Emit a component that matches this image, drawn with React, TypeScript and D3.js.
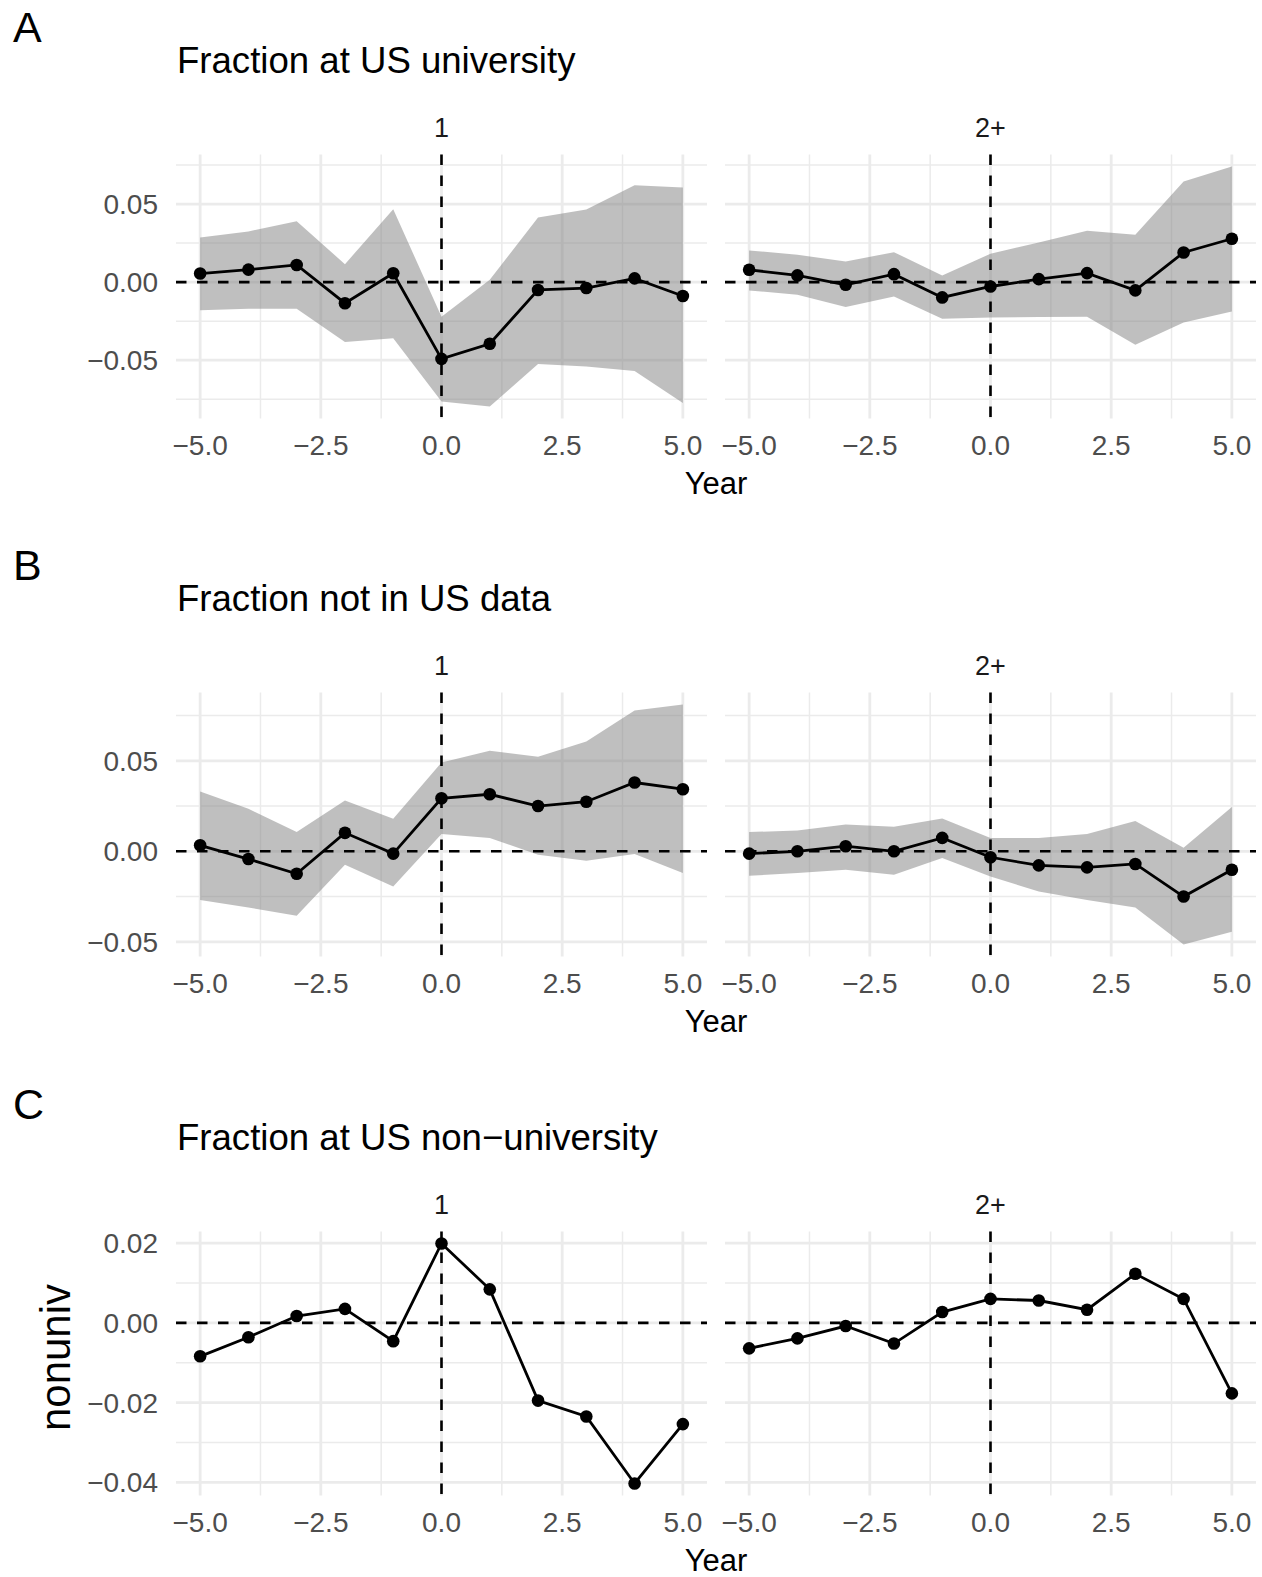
import React, { useEffect, useRef } from "react";
import * as d3 from "d3";

// event years (x axis)
const years = [-5, -4, -3, -2, -1, 0, 1, 2, 3, 4, 5];
const facetLabels = ["1", "2+"];

// A: fraction at US university
const univEst1 = [0.0055, 0.008, 0.011, -0.0135, 0.0057, -0.0492, -0.0395, -0.005, -0.0038, 0.0024, -0.0089];
const univHi1 = [0.0286, 0.0325, 0.039, 0.0115, 0.0467, -0.0222, 0.0015, 0.0414, 0.0466, 0.0621, 0.0607];
const univLo1 = [-0.018, -0.0171, -0.0171, -0.0384, -0.036, -0.0765, -0.0797, -0.0524, -0.054, -0.057, -0.0774];
const univEst2 = [0.0079, 0.0043, -0.0017, 0.0051, -0.0098, -0.0028, 0.0019, 0.0058, -0.0053, 0.019, 0.0278];
const univHi2 = [0.0203, 0.0175, 0.0132, 0.0192, 0.0043, 0.0182, 0.0254, 0.0329, 0.0303, 0.0645, 0.0741];
const univLo2 = [-0.0053, -0.0081, -0.016, -0.0092, -0.0235, -0.0226, -0.0224, -0.0222, -0.0402, -0.0259, -0.0188];

// B: fraction not in US data
const notUsEst1 = [0.0033, -0.0043, -0.0124, 0.0102, -0.0013, 0.0293, 0.0315, 0.025, 0.0274, 0.038, 0.0343];
const notUsHi1 = [0.033, 0.0235, 0.0107, 0.0281, 0.018, 0.0491, 0.0556, 0.0522, 0.0606, 0.0778, 0.0811];
const notUsLo1 = [-0.0269, -0.0311, -0.0356, -0.0074, -0.0194, 0.0096, 0.0074, -0.0019, -0.0052, -0.0015, -0.012];
const notUsEst2 = [-0.0013, 0.0, 0.0028, 0.0, 0.0074, -0.0033, -0.0078, -0.0089, -0.007, -0.025, -0.0102];
const notUsHi2 = [0.0106, 0.0115, 0.0148, 0.0135, 0.0181, 0.0074, 0.0074, 0.0096, 0.0167, 0.0019, 0.0244];
const notUsLo2 = [-0.0135, -0.012, -0.0102, -0.013, -0.0037, -0.0139, -0.0222, -0.0269, -0.0311, -0.0515, -0.0444];

// C: fraction at US non-university (no interval)
const nonunivEst1 = [-0.0084, -0.0036, 0.0017, 0.0035, -0.0046, 0.0199, 0.0084, -0.0195, -0.0235, -0.0403, -0.0254];
const nonunivEst2 = [-0.0064, -0.0039, -0.0008, -0.0052, 0.0027, 0.006, 0.0056, 0.0033, 0.0123, 0.006, -0.0177];

const xTicks = [-5, -2.5, 0, 2.5, 5];
const yTicksAB = [-0.05, 0, 0.05];
const yTicksC = [-0.04, -0.02, 0, 0.02];

const rows = [
  { tag: "A", title: "Fraction at US university", top: 0, yTicks: yTicksAB, yTitle: "",
    facets: [{ est: univEst1, lo: univLo1, hi: univHi1 }, { est: univEst2, lo: univLo2, hi: univHi2 }] },
  { tag: "B", title: "Fraction not in US data", top: 538, yTicks: yTicksAB, yTitle: "",
    facets: [{ est: notUsEst1, lo: notUsLo1, hi: notUsHi1 }, { est: notUsEst2, lo: notUsLo2, hi: notUsHi2 }] },
  { tag: "C", title: "Fraction at US non\u2212university", top: 1077, yTicks: yTicksC, yTitle: "nonuniv",
    facets: [{ est: nonunivEst1, lo: null, hi: null }, { est: nonunivEst2, lo: null, hi: null }] },
];

const W = 1262;
const H = 1577;
const FONT = "'Liberation Sans', Arial, Helvetica, sans-serif";
const panelX = [[176, 707], [725, 1256]];
const plotTop = 154.5;
const plotBottom = 418.5;
const grid = "#EBEBEB";

const App = () => {
  const ref = useRef(null);

  useEffect(() => {
    const svg = d3.select(ref.current);
    svg.selectAll("*").remove();
    svg.append("rect").attr("width", W).attr("height", H).attr("fill", "white");

    const [xa, xb] = d3.extent(years);
    const xPad = (xb - xa) * 0.05;
    const fmtX = d3.format(".1f");
    const fmtY = d3.format(".2f");

    rows.forEach(row => {
      const g = svg.append("g").attr("transform", `translate(0,${row.top})`);

      // y domain shared across facets, 5% expansion like ggplot
      const all = row.facets.flatMap(f => [...f.est, ...(f.lo || []), ...(f.hi || [])]);
      const [ya, yb] = d3.extent(all);
      const yPad = (yb - ya) * 0.05;
      const y = d3.scaleLinear().domain([ya - yPad, yb + yPad]).range([plotBottom, plotTop]);
      const step = row.yTicks[1] - row.yTicks[0];
      const yMinor = d3.range(row.yTicks[0] - step / 2, row.yTicks[row.yTicks.length - 1] + step, step)
        .filter(v => v >= y.domain()[0] && v <= y.domain()[1]);

      g.append("text").attr("x", 13).attr("y", 42).attr("font-size", 43).attr("font-family", FONT)
        .attr("fill", "black").text(row.tag);
      g.append("text").attr("x", 177).attr("y", 73).attr("font-size", 36.6).attr("font-family", FONT)
        .attr("fill", "black").text(row.title);

      // y tick labels
      g.selectAll("text.ytick").data(row.yTicks).enter().append("text")
        .attr("class", "ytick")
        .attr("x", 158).attr("y", d => y(d)).attr("dy", "0.36em")
        .attr("text-anchor", "end").attr("font-size", 28).attr("font-family", FONT)
        .attr("fill", "#4D4D4D").text(d => fmtY(d));

      if (row.yTitle) {
        g.append("text")
          .attr("transform", `translate(70,${(plotTop + plotBottom) / 2 - 6}) rotate(-90)`)
          .attr("text-anchor", "middle").attr("font-size", 42).attr("font-family", FONT)
          .attr("fill", "black").text(row.yTitle);
      }

      g.append("text").attr("x", (panelX[0][0] + panelX[1][1]) / 2).attr("y", 494)
        .attr("text-anchor", "middle").attr("font-size", 31).attr("font-family", FONT)
        .attr("fill", "black").text("Year");

      row.facets.forEach((f, fi) => {
        const x = d3.scaleLinear().domain([xa - xPad, xb + xPad]).range(panelX[fi]);
        const xMinor = d3.range(xTicks[0] + 1.25, xTicks[xTicks.length - 1], 2.5);
        const p = g.append("g");

        // grid
        p.selectAll("line.ymin").data(yMinor).enter().append("line")
          .attr("x1", x.range()[0]).attr("x2", x.range()[1])
          .attr("y1", d => y(d)).attr("y2", d => y(d))
          .attr("stroke", grid).attr("stroke-width", 1.5);
        p.selectAll("line.xmin").data(xMinor).enter().append("line")
          .attr("x1", d => x(d)).attr("x2", d => x(d))
          .attr("y1", plotTop).attr("y2", plotBottom)
          .attr("stroke", grid).attr("stroke-width", 1.5);
        p.selectAll("line.ymaj").data(row.yTicks).enter().append("line")
          .attr("x1", x.range()[0]).attr("x2", x.range()[1])
          .attr("y1", d => y(d)).attr("y2", d => y(d))
          .attr("stroke", grid).attr("stroke-width", 2.8);
        p.selectAll("line.xmaj").data(xTicks).enter().append("line")
          .attr("x1", d => x(d)).attr("x2", d => x(d))
          .attr("y1", plotTop).attr("y2", plotBottom)
          .attr("stroke", grid).attr("stroke-width", 2.8);

        // strip label
        p.append("text").attr("x", x(0)).attr("y", 137).attr("text-anchor", "middle")
          .attr("font-size", 27).attr("font-family", FONT).attr("fill", "#1A1A1A")
          .text(facetLabels[fi]);

        // x tick labels
        p.selectAll("text.xtick").data(xTicks).enter().append("text")
          .attr("x", d => x(d)).attr("y", 455).attr("text-anchor", "middle")
          .attr("font-size", 28).attr("font-family", FONT).attr("fill", "#4D4D4D")
          .text(d => fmtX(d));

        const pts = years.map((yr, i) => ({ yr, est: f.est[i], lo: f.lo ? f.lo[i] : null, hi: f.hi ? f.hi[i] : null }));

        if (f.lo) {
          const area = d3.area().x(d => x(d.yr)).y0(d => y(d.lo)).y1(d => y(d.hi));
          p.append("path").attr("d", area(pts)).attr("fill", "#7F7F7F").attr("fill-opacity", 0.5);
        }

        // reference lines
        p.append("line").attr("x1", x.range()[0]).attr("x2", x.range()[1])
          .attr("y1", y(0)).attr("y2", y(0))
          .attr("stroke", "black").attr("stroke-width", 2.6).attr("stroke-dasharray", "10.5,10.5");
        p.append("line").attr("x1", x(0)).attr("x2", x(0))
          .attr("y1", plotTop).attr("y2", plotBottom)
          .attr("stroke", "black").attr("stroke-width", 2.6).attr("stroke-dasharray", "10.5,10.5");

        const line = d3.line().x(d => x(d.yr)).y(d => y(d.est));
        p.append("path").attr("d", line(pts)).attr("fill", "none")
          .attr("stroke", "black").attr("stroke-width", 2.8);
        p.selectAll("circle").data(pts).enter().append("circle")
          .attr("cx", d => x(d.yr)).attr("cy", d => y(d.est)).attr("r", 6.3).attr("fill", "black");
      });
    });
  }, []);

  return (
    <div style={{ position: "absolute", left: 0, top: 0 }}>
      <svg ref={ref} width={W} height={H} style={{ display: "block" }} />
    </div>
  );
};

export default App;
